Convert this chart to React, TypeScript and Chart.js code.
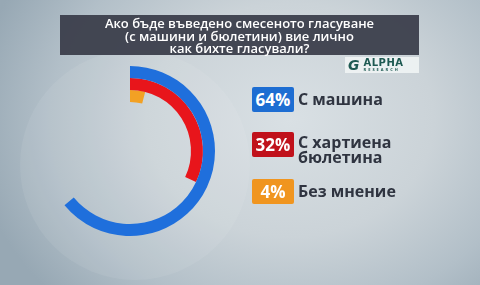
import React, { useEffect, useRef } from "react";
import { Chart, registerables } from "chart.js";

Chart.register(...registerables);

const titleLines = [
  "Ако бъде въведено смесеното гласуване",
  "(с машини и бюлетини) вие лично",
  "как бихте гласували?",
];
const categories = ["С машина", "С хартиена бюлетина", "Без мнение"];
const labelLines = [["С машина"], ["С хартиена", "бюлетина"], ["Без мнение"]];
const values = [64, 32, 4];
const ringColors = ["#1f6fdc", "#e8151b", "#f2a124"];
const boxColors = ["#1d6dd2", "#c0111b", "#f0951f"];

export default function App() {
  const canvasRef = useRef<HTMLCanvasElement | null>(null);

  useEffect(() => {
    document.body.style.margin = "0";
    const ctx = canvasRef.current;
    if (!ctx) return;
    const chart = new Chart(ctx, {
      type: "doughnut",
      data: {
        labels: ["value", "rest"],
        datasets: values.map((v, i) => ({
          label: categories[i],
          data: [v, 100 - v],
          backgroundColor: [ringColors[i], "rgba(0,0,0,0)"],
          borderWidth: 0,
          hoverOffset: 0,
          offset: 0,
        })),
      },
      options: {
        animation: false,
        responsive: true,
        maintainAspectRatio: false,
        cutout: "57.6%",
        layout: { padding: 0 },
        plugins: { legend: { display: false }, tooltip: { enabled: false } },
        events: [],
      },
    });
    return () => chart.destroy();
  }, []);

  const boxTops = [87, 132, 179];

  return (
    <div
      style={{
        position: "fixed",
        left: 0,
        top: 0,
        width: 480,
        height: 285,
        overflow: "hidden",
        background:
          "radial-gradient(ellipse 320px 260px at 290px 120px, #d9e0e4 0%, #cbd3d8 45%, #b2bfc8 75%, #97a8b4 100%)",
        fontFamily: "'Open Sans', sans-serif",
      }}
    >
      <div
        style={{
          position: "absolute",
          left: 20,
          top: 50,
          width: 230,
          height: 230,
          borderRadius: "50%",
          background: "rgba(255,255,255,0.07)",
        }}
      />
      <div
        style={{
          position: "absolute",
          left: 60,
          top: 15,
          width: 359,
          height: 40,
          background: "rgba(58,62,74,0.94)",
          color: "#ffffff",
          textAlign: "center",
          fontSize: 13,
          fontWeight: 600,
          lineHeight: "12.5px",
          paddingTop: 2,
          boxSizing: "border-box",
        }}
      >
        {titleLines.map((t, i) => (
          <div key={i}>{t}</div>
        ))}
      </div>
      <div
        style={{
          position: "absolute",
          left: 345,
          top: 57,
          width: 74,
          height: 16,
          background: "rgba(240,244,244,0.9)",
          display: "flex",
          alignItems: "center",
        }}
      >
        <div
          style={{
            fontFamily: "'DejaVu Sans', sans-serif",
            fontWeight: 700,
            fontSize: 14,
            color: "#1e5a52",
            fontStyle: "italic",
            marginLeft: 3,
            lineHeight: "14px",
          }}
        >
          G
        </div>
        <div style={{ marginLeft: 4, lineHeight: 1 }}>
          <div
            style={{
              fontFamily: "'DejaVu Sans', sans-serif",
              fontWeight: 700,
              fontSize: 10,
              color: "#1e5a52",
              letterSpacing: 0.5,
            }}
          >
            ALPHA
          </div>
          <div
            style={{
              fontSize: 4,
              color: "#1e5a52",
              letterSpacing: 2,
              fontWeight: 700,
            }}
          >
            RESEARCH
          </div>
        </div>
      </div>
      <div
        style={{
          position: "absolute",
          left: 45,
          top: 66,
          width: 170,
          height: 170,
        }}
      >
        <canvas ref={canvasRef} />
      </div>
      {values.map((v, i) => (
        <React.Fragment key={i}>
          <div
            style={{
              position: "absolute",
              left: 252,
              top: boxTops[i],
              width: 42,
              height: 25,
              background: boxColors[i],
              borderRadius: 2,
              color: "#ffffff",
              fontWeight: 700,
              fontSize: 17,
              lineHeight: "25px",
              textAlign: "center",
            }}
          >
            {v}%
          </div>
          <div
            style={{
              position: "absolute",
              left: 298,
              top: boxTops[i] + (labelLines[i].length > 1 ? 3 : 1),
              color: "#2f3440",
              fontWeight: 700,
              fontSize: 16,
              lineHeight: labelLines[i].length > 1 ? "14.5px" : "23px",
            }}
          >
            {labelLines[i].map((l, j) => (
              <div key={j}>{l}</div>
            ))}
          </div>
        </React.Fragment>
      ))}
    </div>
  );
}
